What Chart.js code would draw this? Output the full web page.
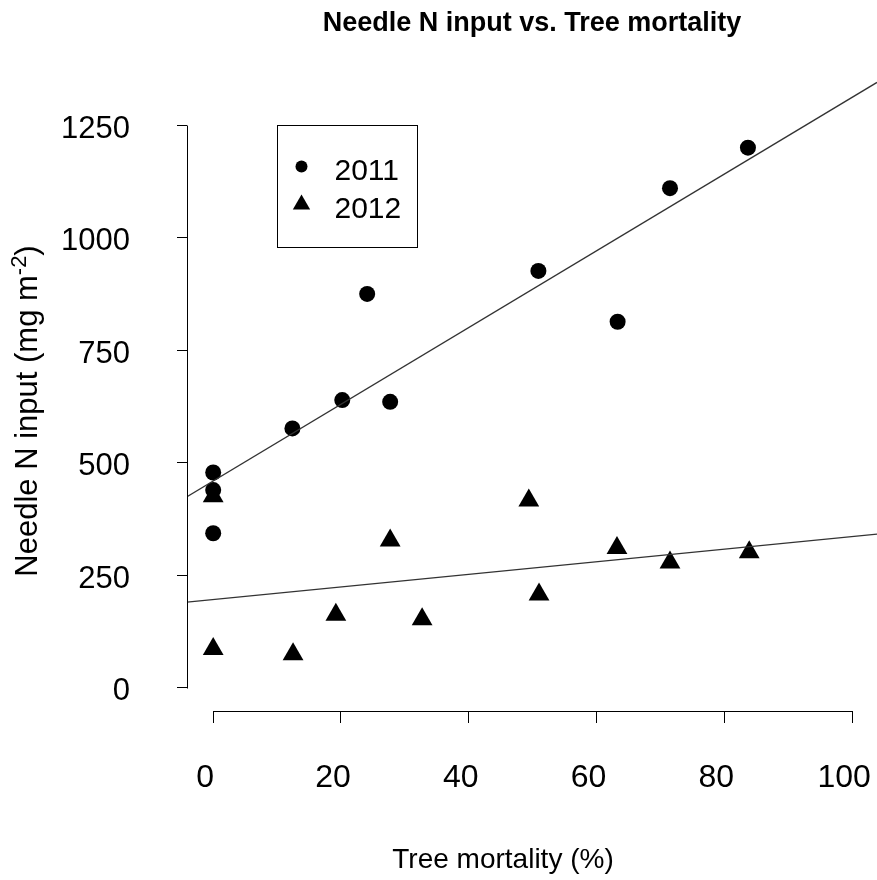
<!DOCTYPE html>
<html>
<head>
<meta charset="utf-8">
<script src="https://cdn.jsdelivr.net/npm/chart.js@4.4.0/dist/chart.umd.min.js"></script>
<style>
  html, body { margin: 0; padding: 0; background: #fff; }
  canvas { display: block; }
</style>
</head>
<body>
<canvas id="chart" width="877" height="880"></canvas>
<script>
// values
const mortality2011 = [0, 0, 0, 12.4, 20.2, 24.1, 27.7, 50.9, 63.3, 71.5, 83.7];
const input2011 = [478, 439, 343, 576, 639, 875, 635, 926, 813, 1110, 1200];
const mortality2012 = [0, 0, 12.5, 19.2, 27.7, 32.7, 49.4, 51.0, 63.2, 71.5, 83.9];
const input2012 = [425, 86, 74, 162, 327, 152, 416, 207, 310, 278, 301];

// regression lines, end points as seen at the plot edges
const fitX = [-4.1, 103.9];
const fit2011 = [424, 1345];
const fit2012 = [190, 341];

const xTicks = [0, 20, 40, 60, 80, 100];
const yTicks = [0, 250, 500, 750, 1000, 1250];
const seriesNames = ['2011', '2012'];

const FONT = "'Liberation Sans', Arial, sans-serif";
const pairs = (xs, ys) => xs.map((x, i) => ({ x: x, y: ys[i] }));

// R style axes: line only spans first to last tick
const rAxes = {
    id: 'rAxes',
    afterDatasetsDraw(chart) {
        const { ctx, chartArea, scales: { x, y } } = chart;
        ctx.save();
        ctx.strokeStyle = '#000';
        ctx.lineWidth = 1;
        ctx.beginPath();
        const ax = Math.round(chartArea.left) + 0.5;
        ctx.moveTo(ax, Math.round(y.getPixelForValue(yTicks[0])) + 0.5);
        ctx.lineTo(ax, Math.round(y.getPixelForValue(yTicks[yTicks.length - 1])) + 0.5);
        const ay = Math.round(chartArea.bottom) + 0.5;
        ctx.moveTo(Math.round(x.getPixelForValue(xTicks[0])) + 0.5, ay);
        ctx.lineTo(Math.round(x.getPixelForValue(xTicks[xTicks.length - 1])) + 0.5, ay);
        ctx.stroke();
        ctx.restore();
    }
};

// axis titles (the y one has a superscript)
const rTitles = {
    id: 'rTitles',
    afterDraw(chart, args, opts) {
        const ctx = chart.ctx;
        ctx.save();
        ctx.fillStyle = '#000';
        ctx.textBaseline = 'alphabetic';
        ctx.textAlign = 'center';
        ctx.font = `${opts.xSize}px ${FONT}`;
        ctx.fillText(opts.xText, opts.xPos[0], opts.xPos[1]);

        ctx.translate(opts.yPos[0], opts.yPos[1]);
        ctx.rotate(-Math.PI / 2);
        ctx.textAlign = 'left';
        const big = `${opts.ySize}px ${FONT}`;
        const small = `${Math.round(opts.ySize * 0.7)}px ${FONT}`;
        ctx.font = big;
        const w1 = ctx.measureText(opts.yText[0]).width;
        const w3 = ctx.measureText(opts.yText[2]).width;
        ctx.font = small;
        const w2 = ctx.measureText(opts.yText[1]).width;
        let cx = -(w1 + w2 + w3) / 2;
        ctx.font = big;
        ctx.fillText(opts.yText[0], cx, 0);
        cx += w1;
        ctx.font = small;
        ctx.fillText(opts.yText[1], cx, -opts.ySize * 0.36);
        cx += w2;
        ctx.font = big;
        ctx.fillText(opts.yText[2], cx, 0);
        ctx.restore();
    }
};

// boxed legend placed in data coordinates, like legend(x, y) in R
const boxLegend = {
    id: 'boxLegend',
    afterDatasetsDraw(chart, args, opts) {
        const { ctx, scales: { x, y } } = chart;
        const left = Math.round(x.getPixelForValue(opts.x)) + 0.5;
        const top = Math.round(y.getPixelForValue(opts.y)) + 0.5;
        ctx.save();
        ctx.fillStyle = '#fff';
        ctx.fillRect(left, top, opts.width, opts.height);
        ctx.strokeStyle = '#000';
        ctx.lineWidth = 1;
        ctx.strokeRect(left, top, opts.width, opts.height);
        const items = chart.data.datasets
            .filter(d => !d.showLine)
            .sort((a, b) => a.label.localeCompare(b.label));
        ctx.font = `${opts.fontSize}px ${FONT}`;
        ctx.textBaseline = 'middle';
        ctx.textAlign = 'left';
        items.forEach((d, i) => {
            ctx.fillStyle = '#000';
            Chart.helpers.drawPoint(ctx, {
                pointStyle: d.pointStyle,
                radius: opts.markerRadius[i],
                borderWidth: 0,
                rotation: 0
            }, left + opts.markerX, top + opts.rows[i] - 5);
            ctx.fillText(d.label, left + opts.textX, top + opts.rows[i]);
        });
        ctx.restore();
    }
};

// no extra room for overhanging tick labels, the plot region runs to the canvas edge
const noOverhang = s => {
    s.paddingLeft = 0;
    s.paddingRight = 0;
    s.paddingTop = 0;
    s.paddingBottom = 0;
};

new Chart(document.getElementById('chart'), {
    type: 'scatter',
    data: {
        datasets: [
            {
                label: 'fit 2011',
                data: pairs(fitX, fit2011),
                showLine: true,
                pointRadius: 0,
                borderColor: '#333',
                borderWidth: 1.3
            },
            {
                label: 'fit 2012',
                data: pairs(fitX, fit2012),
                showLine: true,
                pointRadius: 0,
                borderColor: '#333',
                borderWidth: 1.3
            },
            {
                label: seriesNames[1],
                data: pairs(mortality2012, input2012),
                pointStyle: 'triangle',
                pointRadius: 12,
                pointHoverRadius: 12,
                pointBackgroundColor: '#000',
                pointBorderWidth: 0
            },
            {
                label: seriesNames[0],
                data: pairs(mortality2011, input2011),
                pointStyle: 'circle',
                pointRadius: 8,
                pointHoverRadius: 8,
                pointBackgroundColor: '#000',
                pointBorderWidth: 0
            }
        ]
    },
    options: {
        responsive: false,
        animation: false,
        events: [],
        devicePixelRatio: 1,
        layout: { padding: 0, autoPadding: false },
        scales: {
            x: {
                type: 'linear',
                min: fitX[0],
                max: fitX[1],
                afterBuildTicks: s => { s.ticks = xTicks.map(v => ({ value: v })); },
                afterFit: s => { s.height = 169; noOverhang(s); },
                border: { display: false },
                grid: { drawOnChartArea: false, drawTicks: true, tickLength: 12, color: '#000', lineWidth: 1 },
                ticks: {
                    font: { family: FONT, size: 32 },
                    color: '#000',
                    padding: 36,
                    labelOffset: -8,
                    autoSkip: false,
                    maxRotation: 0,
                    callback: v => String(v)
                }
            },
            y: {
                type: 'linear',
                min: -52,
                max: 1401,
                afterBuildTicks: s => { s.ticks = yTicks.map(v => ({ value: v })); },
                afterFit: s => { s.width = 187; noOverhang(s); },
                border: { display: false },
                grid: { drawOnChartArea: false, drawTicks: true, tickLength: 10, color: '#000', lineWidth: 1 },
                ticks: {
                    font: { family: FONT, size: 31 },
                    color: '#000',
                    padding: 47,
                    labelOffset: 4,
                    autoSkip: false,
                    callback: v => String(v)
                }
            }
        },
        plugins: {
            legend: { display: false },
            tooltip: { enabled: false },
            title: {
                display: true,
                text: 'Needle N input vs. Tree mortality',
                fullSize: false,
                color: '#000',
                font: { family: FONT, size: 27, weight: 'bold', lineHeight: 1.2 },
                padding: { top: 7, bottom: 17.8 }
            },
            boxLegend: {
                x: 10, y: 1250,
                width: 140, height: 122,
                markerX: 24, textX: 57,
                rows: [46, 84],
                markerRadius: [6, 10],
                fontSize: 30
            },
            rTitles: {
                xText: 'Tree mortality (%)', xSize: 28, xPos: [503, 868],
                yText: ['Needle N input (mg m', '-2', ')'], ySize: 31, yPos: [37, 411]
            }
        }
    },
    plugins: [rAxes, rTitles, boxLegend]
});
</script>
</body>
</html>
